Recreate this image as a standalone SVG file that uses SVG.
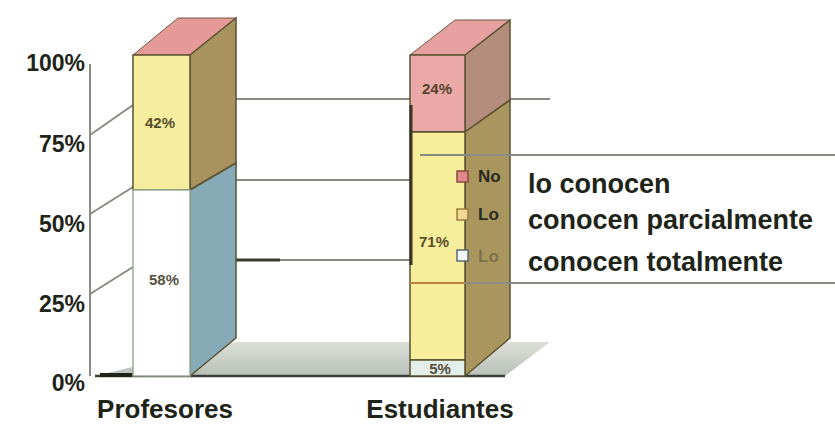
<svg xmlns="http://www.w3.org/2000/svg" width="835" height="427" viewBox="0 0 835 427">
<defs>
<style>
.ax{font-family:"Liberation Sans",Arial,sans-serif;font-weight:bold;font-size:23px;fill:#1e2418;text-anchor:end}
.cat{font-family:"Liberation Sans",Arial,sans-serif;font-weight:bold;font-size:26px;fill:#1e2418;text-anchor:middle}
.leg{font-family:"Liberation Sans",Arial,sans-serif;font-weight:bold;font-size:27px;fill:#1e2418}
.legs{font-family:"Liberation Sans",Arial,sans-serif;font-weight:bold;font-size:17px;fill:#2a2a20}
.dl{font-family:"Liberation Sans",Arial,sans-serif;font-weight:bold;font-size:15px;fill:#3a3218;text-anchor:middle;opacity:0.85}
.grid{stroke:#8a8a84;stroke-width:2;fill:none}
.edge{stroke:#5a5230;stroke-width:1.5}
</style>
<linearGradient id="floor" x1="0" y1="0" x2="0" y2="1">
<stop offset="0" stop-color="#dcdfd8"/><stop offset="1" stop-color="#b8c0b8"/>
</linearGradient>
</defs>
<rect width="835" height="427" fill="#ffffff"/>

<g id="axes">
<line class="grid" x1="90" y1="64" x2="90" y2="376" stroke="#b0b0a8"/>
<line class="grid" x1="90" y1="135" x2="133" y2="105"/>
<line class="grid" x1="90" y1="214" x2="133" y2="187"/>
<line class="grid" x1="90" y1="294" x2="133" y2="267"/>
<line class="grid" x1="236" y1="99" x2="550" y2="99"/>
<line class="grid" x1="236" y1="180" x2="410" y2="180"/>
<line class="grid" x1="236" y1="260" x2="410" y2="260"/>
<line x1="236" y1="260" x2="280" y2="260" stroke="#3a3a30" stroke-width="3"/>
<polygon points="95,376 505,376 550,342 236,342" fill="url(#floor)"/>
<line x1="95" y1="376" x2="505" y2="376" stroke="#3a3f38" stroke-width="2.5"/>
<line x1="100" y1="375" x2="150" y2="375" stroke="#1e2418" stroke-width="4"/>
<text class="ax" x="85" y="71">100%</text>
<text class="ax" x="85" y="152">75%</text>
<text class="ax" x="85" y="232">50%</text>
<text class="ax" x="85" y="312">25%</text>
<text class="ax" x="85" y="391">0%</text>
</g>

<g id="bar-profesores">
<polygon points="133,55 190,55 236,18 178,18" fill="#e59a98" stroke="#6a5a40"/>
<polygon points="190,55 236,18 236,163 190,190" fill="#a8935e" class="edge"/>
<polygon points="190,190 236,163 236,338 190,376" fill="#86aab6" class="edge"/>
<rect x="133" y="55" width="57" height="135" fill="#f6ee9e" class="edge"/>
<rect x="133" y="190" width="57" height="186" fill="#ffffff" stroke="#9aaa98" stroke-width="1.5"/>
<text class="dl" x="160" y="128">42%</text>
<text class="dl" x="164" y="285" fill="#2e4a50">58%</text>
</g>

<g id="bar-estudiantes">
<polygon points="410,55 465,55 510,20 455,20" fill="#e6a0a0" stroke="#6a5a40"/>
<polygon points="465,55 510,20 510,100 465,132" fill="#b48c7c" class="edge"/>
<polygon points="465,132 510,100 510,338 465,376" fill="#a8965e" class="edge"/>
<rect x="410" y="55" width="55" height="77" fill="#eaa8a6" class="edge"/>
<rect x="410" y="132" width="55" height="228" fill="#f7ee9c" class="edge"/>
<rect x="410" y="360" width="55" height="16" fill="#e4eee8" class="edge"/>
<line x1="411" y1="105" x2="411" y2="265" stroke="#3a3424" stroke-width="3"/>
<line x1="410" y1="283" x2="465" y2="283" stroke="#c08040" stroke-width="2"/>
<text class="dl" x="437" y="94">24%</text>
<text class="dl" x="434" y="247">71%</text>
<text class="dl" x="440" y="374" font-size="11" fill="#2e6a60">5%</text>
</g>

<g id="legend">
<line class="grid" x1="420" y1="155" x2="835" y2="155" stroke="#6a6a64"/>
<line class="grid" x1="465" y1="283" x2="835" y2="283"/>
<rect x="457" y="171" width="11" height="11" fill="#e0888a" stroke="#8a4a40" stroke-width="1.5"/>
<rect x="457" y="209" width="11" height="11" fill="#f0d890" stroke="#9a7a40" stroke-width="1.5"/>
<rect x="457" y="250" width="11" height="11" fill="#f4f8fa" stroke="#5a6a70" stroke-width="1.5"/>
<text class="legs" x="478" y="182">No</text>
<text class="legs" x="478" y="220">Lo</text>
<text class="legs" x="478" y="262" opacity="0.35">Lo</text>
<text class="leg" x="528" y="193">lo conocen</text>
<text class="leg" x="528" y="229">conocen parcialmente</text>
<text class="leg" x="528" y="271">conocen totalmente</text>
</g>

<g id="categories">
<text class="cat" x="165" y="418">Profesores</text>
<text class="cat" x="440" y="418">Estudiantes</text>
</g>
</svg>
